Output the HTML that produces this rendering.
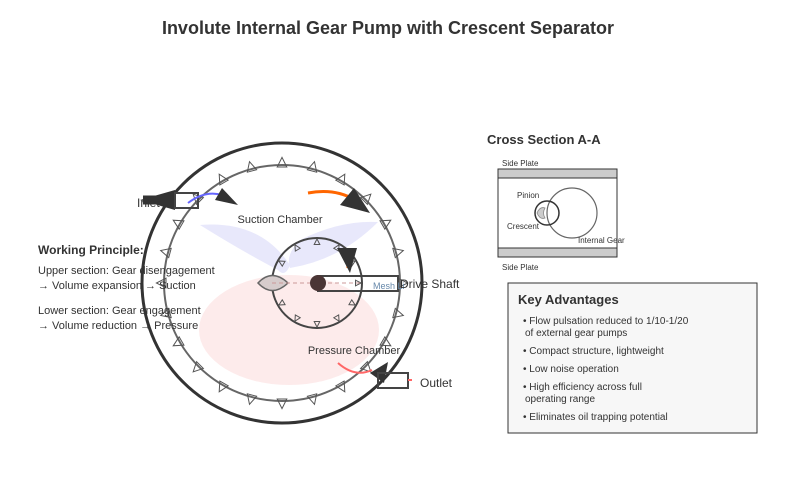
<!DOCTYPE html>
<html><head><meta charset="utf-8"><style>
body{margin:0;background:#fff;width:794px;height:492px;overflow:hidden;font-family:"Liberation Sans",sans-serif}
</style></head><body>
<svg id="s" width="794" height="492" viewBox="0 0 794 492" xmlns="http://www.w3.org/2000/svg" font-family="Liberation Sans, sans-serif">
<text x="388" y="34" text-anchor="middle" font-size="18" font-weight="bold" fill="#333">Involute Internal Gear Pump with Crescent Separator</text>
<!-- chambers -->
<path d="M200,225 Q260,220 290,265 Q285,278 278,270 Q240,250 200,225Z" fill="#e6e6fb" opacity="0.9"/>
<path d="M378,222 Q340,220 300,240 Q285,255 290,268 Q340,260 378,222Z" fill="#e6e6fb" opacity="0.9"/>
<ellipse cx="289" cy="330" rx="90" ry="55" fill="#fde9e9" opacity="0.9"/>
<circle cx="282" cy="283" r="140" fill="none" stroke="#333" stroke-width="3"/>
<circle cx="282" cy="283" r="118" fill="none" stroke="#666" stroke-width="2"/>
<g id="tri1"></g>
<circle cx="317" cy="283" r="45" fill="none" stroke="#444" stroke-width="2"/>
<g id="tri2"></g>
<path d="M258,283 Q272,268 288,283 Q272,298 258,283Z" fill="#d6cccc" stroke="#666" stroke-width="1.5"/>
<line x1="272" y1="283" x2="360" y2="283" stroke="#c99" stroke-width="1" stroke-dasharray="4,3"/>
<rect x="318" y="276" width="80" height="15" fill="none" stroke="#444" stroke-width="2"/>
<circle cx="318" cy="283" r="8" fill="#4a3535"/>
<text x="373" y="289" font-size="9" fill="#68a">Mesh Li</text>
<text x="400" y="288" font-size="12" fill="#333">Drive Shaft</text>
<!-- arrows -->
<path d="M160,200 L143,200" stroke="#333" stroke-width="9"/>
<polygon points="140,200 175,190 175,210" fill="#333"/>
<rect x="175" y="193" width="23" height="15" fill="none" stroke="#444" stroke-width="2"/>
<text x="137" y="207" font-size="12" fill="#333">Inlet</text>
<path d="M188,203 Q205,190 222,195" stroke="#66f" stroke-width="2" fill="none"/>
<polygon points="238,205 222,188 215,200" fill="#333"/>
<path d="M308,193 Q335,188 355,200" stroke="#f60" stroke-width="3" fill="none"/>
<polygon points="370,213 340,205 354,188" fill="#333"/>
<path d="M340,250 Q348,255 348,268" stroke="#f60" stroke-width="3" fill="none"/>
<polygon points="350,273 337,248 357,248" fill="#333"/>
<path d="M338,363 Q355,378 372,370" stroke="#f66" stroke-width="2" fill="none"/>
<polygon points="370,373 388,362 384,383" fill="#333"/>
<rect x="378" y="373" width="30" height="15" fill="none" stroke="#444" stroke-width="2"/>
<line x1="408" y1="380" x2="412" y2="380" stroke="#f66" stroke-width="2"/>
<text x="420" y="387" font-size="12" fill="#333">Outlet</text>
<text x="280" y="223" text-anchor="middle" font-size="11" fill="#333">Suction Chamber</text>
<text x="354" y="354" text-anchor="middle" font-size="11" fill="#333">Pressure Chamber</text>
<text x="38" y="254" font-size="12" font-weight="bold" fill="#333">Working Principle:</text>
<text x="38" y="274" font-size="11" fill="#333">Upper section: Gear disengagement</text>
<text x="38" y="289" font-size="11" fill="#333">→ Volume expansion → Suction</text>
<text x="38" y="314" font-size="11" fill="#333">Lower section: Gear engagement</text>
<text x="38" y="329" font-size="11" fill="#333">→ Volume reduction → Pressure</text>
<!-- cross section -->
<text x="487" y="144" font-size="13" font-weight="bold" fill="#333">Cross Section A-A</text>
<text x="502" y="166" font-size="8" fill="#333">Side Plate</text>
<rect x="498" y="169" width="119" height="88" fill="#fff" stroke="#333" stroke-width="1"/>
<rect x="498" y="169" width="119" height="9" fill="#ccc" stroke="#333" stroke-width="1"/>
<rect x="498" y="248" width="119" height="9" fill="#ccc" stroke="#333" stroke-width="1"/>
<text x="502" y="270" font-size="8" fill="#333">Side Plate</text>
<circle cx="572" cy="213" r="25" fill="none" stroke="#666" stroke-width="1.2"/>
<circle cx="547" cy="213" r="12" fill="none" stroke="#333" stroke-width="1.5"/>
<path d="M537,213 Q540,206 545,208 Q542,213 545,218 Q540,220 537,213Z" fill="#ccc" stroke="#888" stroke-width="0.8"/>
<text x="517" y="198" font-size="8" fill="#333">Pinion</text>
<text x="507" y="229" font-size="8" fill="#333">Crescent</text>
<text x="578" y="243" font-size="8" fill="#333">Internal Gear</text>
<!-- key advantages -->
<rect x="508" y="283" width="249" height="150" fill="#f7f7f7" stroke="#333" stroke-width="1"/>
<text x="518" y="304" font-size="13" font-weight="bold" fill="#333">Key Advantages</text>
<g font-size="10" fill="#333">
<text x="523" y="324">• Flow pulsation reduced to 1/10-1/20</text>
<text x="525" y="336">of external gear pumps</text>
<text x="523" y="354">• Compact structure, lightweight</text>
<text x="523" y="372">• Low noise operation</text>
<text x="523" y="390">• High efficiency across full</text>
<text x="525" y="402">operating range</text>
<text x="523" y="420">• Eliminates oil trapping potential</text>
</g>
</svg>
<script>
function tris(id,cx,cy,r,n,s){var g=document.getElementById(id),h='';for(var i=0;i<n;i++){var a=i*2*Math.PI/n;var x=cx+r*Math.cos(a),y=cy+r*Math.sin(a);var d=a*180/Math.PI;h+='<polygon transform="translate('+x+','+y+') rotate('+d+')" points="'+(-s)+','+(-s*0.8)+' '+(-s)+','+(s*0.8)+' '+(s*0.6)+',0" fill="none" stroke="#555" stroke-width="1"/>';}g.innerHTML=h;}
tris('tri1',282,283,122,24,6);tris('tri2',317,283,42,12,3.5);
</script>
</body></html>
